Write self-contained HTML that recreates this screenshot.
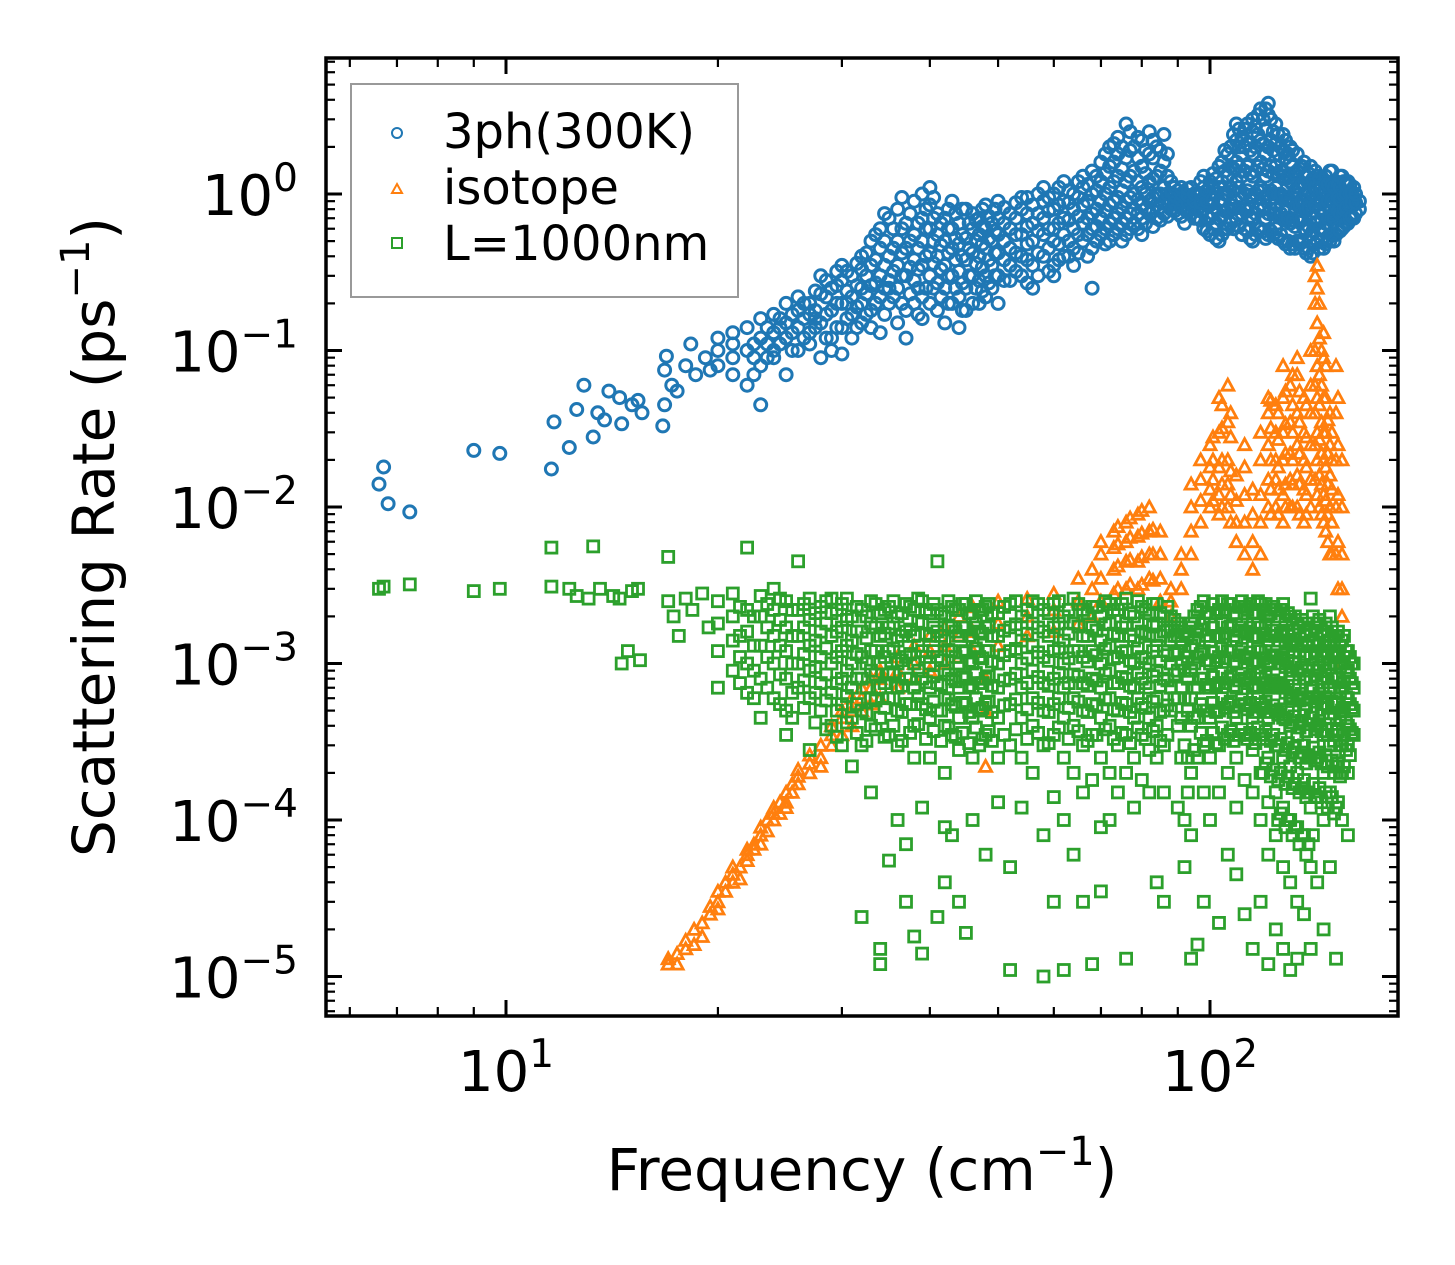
<!DOCTYPE html>
<html><head><meta charset="utf-8"><style>
html,body{margin:0;padding:0;background:#fff;}
svg{display:block;font-family:"DejaVu Sans","Liberation Sans",sans-serif;}
</style></head><body>
<svg id="chart" width="1455" height="1265" viewBox="0 0 1455 1265" xmlns="http://www.w3.org/2000/svg">
<rect width="1455" height="1265" fill="#fff"/>
<g id="marks"></g>
<g id="axes"></g>
<text x="862" y="1190" font-size="58" text-anchor="middle">Frequency (cm<tspan font-size="40" dy="-25">−1</tspan><tspan dy="25">)</tspan></text>
<text transform="translate(114,537) rotate(-90)" font-size="58" text-anchor="middle">Scattering Rate (ps<tspan font-size="40" dy="-25">−1</tspan><tspan dy="25">)</tspan></text>
<g>
<rect x="351" y="84" width="387" height="213" fill="#fff" fill-opacity="0.8" stroke="#999" stroke-width="2"/>
<circle cx="397" cy="133" r="5" fill="none" stroke="#1f77b4" stroke-width="2"/>
<text x="443" y="148" font-size="48">3ph(300K)</text>
<path d="M397,184 L402,193 L392,193 Z" fill="none" stroke="#ff7f0e" stroke-width="2"/>
<text x="443" y="204" font-size="48">isotope</text>
<rect x="392" y="238" width="10" height="10" fill="none" stroke="#2ca02c" stroke-width="2"/>
<text x="443" y="260" font-size="48">L=1000nm</text>
</g>
</svg>
<script>
// ---- data ----
const xTickValues = [10, 100];
const xTickExps = ["1", "2"];
const yTickValues = [1, 0.1, 0.01, 0.001, 0.0001, 0.00001];
const yTickExps = ["0", "−1", "−2", "−3", "−4", "−5"];

const blueSingles = [[6.6,0.014],[6.7,0.018],[6.8,0.0105],[7.3,0.0093],[9,0.023],[9.8,0.022],[11.6,0.0175],[11.7,0.035],[12.3,0.024],[12.6,0.042],[12.9,0.06],[13.3,0.028],[13.5,0.04],[13.8,0.036],[14,0.055],[14.5,0.05],[14.6,0.034],[15.1,0.045],[15.4,0.048],[15.6,0.04],[16.7,0.033],[16.8,0.045],[16.8,0.075],[16.9,0.092],[17.2,0.06],[17.5,0.055],[18,0.08],[18.3,0.11],[18.6,0.07],[19.2,0.09],[19.5,0.075]];
const blueGroups = [
[20,[0.08,0.1,0.12]],[21,[0.09,0.13,0.07,0.11]],[22,[0.06,0.1,0.14]],[23,[0.08,0.12,0.16,0.045]],
[24,[0.1,0.13,0.09,0.17]],[25,[0.12,0.15,0.2,0.07]],[26,[0.1,0.14,0.18,0.22]],[27,[0.13,0.17,0.2,0.11]],
[28,[0.09,0.15,0.23,0.3]],[29,[0.12,0.18,0.25,0.1]],[30,[0.14,0.2,0.28,0.35,0.095]],[31,[0.17,0.22,0.3,0.12]],
[32,[0.2,0.25,0.33,0.15,0.4]],[33,[0.18,0.26,0.35,0.5,0.14]],[34,[0.22,0.3,0.45,0.6,0.13]],[35,[0.2,0.28,0.4,0.7,0.25]],
[36,[0.15,0.25,0.35,0.5,0.8]],[37,[0.18,0.3,0.45,0.65,0.12]],[38,[0.2,0.28,0.38,0.55,0.9]],[39,[0.22,0.35,0.5,0.7,1.0,0.16]],
[40,[0.2,0.3,0.42,0.6,0.85,1.1]],[41,[0.18,0.27,0.4,0.55,0.75]],[42,[0.25,0.35,0.5,0.7,0.15]],[43,[0.2,0.3,0.45,0.6,0.9]],
[44,[0.22,0.32,0.48,0.65,0.14]],[45,[0.25,0.38,0.52,0.8,0.18]],[46,[0.2,0.3,0.42,0.6,0.75]],[47,[0.28,0.4,0.55,0.7,0.2]],
[48,[0.3,0.45,0.6,0.85,0.22]],[49,[0.25,0.35,0.5,0.65]],[50,[0.3,0.42,0.55,0.7,0.9,0.2]],[52,[0.35,0.45,0.6,0.75,0.28]],
[54,[0.3,0.4,0.55,0.8,0.95]],[56,[0.35,0.5,0.65,0.85,0.25]],[58,[0.4,0.55,0.7,0.9,1.1]],[60,[0.35,0.5,0.6,0.8,1.0,0.3]],
[62,[0.4,0.55,0.7,0.9,1.2]],[64,[0.45,0.6,0.8,1.0,0.35]],[66,[0.5,0.65,0.85,1.1,1.3]],[68,[0.45,0.6,0.75,1.0,1.4,0.25]],
[70,[0.55,0.7,0.9,1.2,1.6]],[72,[0.5,0.65,0.85,1.1,1.5,2.0]],[74,[0.6,0.75,0.95,1.3,1.8,2.3]],[76,[0.55,0.7,0.9,1.2,1.7,2.8]],
[78,[0.65,0.8,1.0,1.4,2.0]],[80,[0.7,0.85,1.1,1.5,2.2,0.55]],[82,[0.75,0.9,1.2,1.8,2.5]],[84,[0.7,0.85,1.0,1.3,2.0]],
[86,[0.75,0.9,1.1,1.6,2.4]],[88,[0.8,0.9,1.0,1.2]],[90,[0.75,0.85,0.95,1.05]],[92,[0.8,0.9,1.0,0.65]],
[94,[0.75,0.85,0.95,1.1]],[96,[0.8,0.9,1.0,0.7]],[98,[0.6,0.8,0.95,1.1,1.3]],[100,[0.55,0.7,0.85,1.0,1.2]],
[103,[0.5,0.7,0.9,1.1,1.5]],[106,[0.6,0.8,1.0,1.3,1.8]],[109,[0.7,0.9,1.2,1.6,2.2,2.8]],[112,[0.6,0.8,1.0,1.4,2.0,2.6]],
[115,[0.5,0.7,0.95,1.3,1.8,2.5,3.0]],[118,[0.6,0.85,1.1,1.6,2.2,3.5]],[121,[0.55,0.75,1.0,1.4,2.0,3.2,3.8]],[124,[0.6,0.8,1.1,1.5,2.1,2.8]],
[127,[0.5,0.7,0.95,1.3,1.9,2.4]],[130,[0.45,0.65,0.9,1.2,1.6,2.0]],[133,[0.5,0.7,0.85,1.1,1.4,1.8]],[136,[0.45,0.6,0.8,1.0,1.3,1.6]],
[139,[0.4,0.55,0.75,0.95,1.2,1.5]],[142,[0.5,0.65,0.85,1.05,1.3]],[145,[0.45,0.6,0.8,1.0,1.2]],[148,[0.5,0.7,0.9,1.1,1.4]],
[151,[0.55,0.75,0.95,1.2]],[154,[0.6,0.8,1.0,1.3]],[157,[0.65,0.85,1.0,1.2]],[160,[0.7,0.85,0.95,1.1]],[163,[0.8,0.9]]
];
const blueGroupsB = [
[22.5,[0.07,0.09,0.11]],[23.5,[0.09,0.11,0.14]],[24.5,[0.11,0.14,0.16]],[25.5,[0.1,0.13,0.17]],[26.5,[0.12,0.16,0.2]],
[27.5,[0.14,0.18,0.24,0.16]],[28.5,[0.12,0.17,0.22,0.28]],[29.5,[0.14,0.2,0.26,0.32]],
[30.5,[0.16,0.24,0.32,0.2]],[31.5,[0.14,0.19,0.26,0.36]],[32.5,[0.17,0.23,0.3,0.42]],[33.5,[0.2,0.27,0.38,0.55]],
[34.5,[0.17,0.25,0.35,0.5,0.75]],[35.5,[0.22,0.32,0.45,0.6]],[36.5,[0.2,0.3,0.42,0.6,0.95]],[37.5,[0.23,0.34,0.5,0.75]],
[38.5,[0.17,0.25,0.33,0.45,0.65]],[39.5,[0.25,0.4,0.6,0.8]],[40.5,[0.25,0.36,0.5,0.7,0.95]],[41.5,[0.22,0.33,0.47,0.65]],
[42.5,[0.2,0.3,0.42,0.6,0.8]],[43.5,[0.25,0.38,0.52,0.75]],[44.5,[0.18,0.27,0.4,0.55,0.8]],[45.5,[0.3,0.45,0.65]],
[46.5,[0.25,0.36,0.5,0.68]],[47.5,[0.24,0.34,0.48,0.62,0.8]],[48.5,[0.27,0.38,0.52,0.72]],[49.5,[0.3,0.42,0.58,0.8]],
[51,[0.28,0.38,0.5,0.65,0.82]],[53,[0.32,0.42,0.55,0.7,0.88]],[55,[0.27,0.38,0.48,0.62,0.75,0.95]],[57,[0.3,0.42,0.58,0.75,1.0]],
[59,[0.32,0.45,0.6,0.78,0.95]],[61,[0.38,0.48,0.65,0.85,1.1]],[63,[0.4,0.5,0.68,0.88,1.05]],[65,[0.42,0.55,0.72,0.95,1.2]],
[67,[0.4,0.55,0.7,0.9,1.15]],[69,[0.5,0.62,0.8,1.05,1.3]],[71,[0.48,0.6,0.78,1.0,1.35,1.8]],[73,[0.55,0.7,0.9,1.2,1.6,2.1]],
[75,[0.5,0.65,0.82,1.05,1.45,2.0]],[77,[0.6,0.75,0.95,1.3,1.9,2.5]],[79,[0.6,0.75,0.92,1.2,1.7,2.3]],[81,[0.65,0.8,1.0,1.35,1.9]],
[83,[0.62,0.78,0.95,1.25,1.7,2.2]],[85,[0.68,0.82,1.0,1.4,1.9]],[87,[0.72,0.85,1.0,1.3,1.8]],[89,[0.78,0.88,0.98,1.1]],
[91,[0.72,0.82,0.92,1.0,1.1]],[93,[0.78,0.88,0.98,1.08]],[95,[0.7,0.8,0.9,1.0]],[97,[0.68,0.78,0.88,1.0,1.2]],
[99,[0.58,0.72,0.9,1.05]],[101,[0.6,0.75,0.92,1.1,1.35]],[102,[0.52,0.65,0.8,1.0,1.25]],[104,[0.55,0.72,0.92,1.2,1.6]],
[105,[0.6,0.78,1.0,1.4,1.9]],[107,[0.65,0.85,1.1,1.5,2.0]],[108,[0.6,0.8,1.05,1.45,2.4]],[110,[0.62,0.82,1.1,1.5,2.0,2.6]],
[111,[0.55,0.75,0.95,1.3,1.8,2.3]],[113,[0.58,0.78,1.05,1.5,2.1,2.8]],[114,[0.52,0.72,0.98,1.35,1.9]],[116,[0.55,0.75,1.0,1.4,2.0,2.7]],
[117,[0.6,0.8,1.05,1.5,2.4,3.2]],[119,[0.58,0.8,1.05,1.45,2.1,3.0]],[120,[0.52,0.7,0.95,1.3,1.8,2.6,3.5]],[122,[0.58,0.8,1.05,1.5,2.2,3.0]],
[123,[0.55,0.75,1.0,1.35,1.9,2.5]],[125,[0.52,0.72,0.98,1.35,1.8,2.4]],[126,[0.55,0.75,1.0,1.4,2.0]],[128,[0.48,0.68,0.92,1.25,1.7,2.2]],
[129,[0.5,0.7,0.95,1.3,1.8]],[131,[0.48,0.68,0.88,1.15,1.5,1.9]],[132,[0.45,0.62,0.82,1.05,1.35]],[134,[0.48,0.66,0.85,1.1,1.45]],
[135,[0.5,0.7,0.9,1.15,1.5]],[137,[0.42,0.58,0.78,1.0,1.3]],[138,[0.45,0.62,0.82,1.05,1.35]],[140,[0.42,0.58,0.78,1.0,1.25]],
[141,[0.48,0.65,0.85,1.1,1.4]],[143,[0.45,0.6,0.8,1.0,1.25]],[144,[0.5,0.68,0.88,1.1]],[146,[0.48,0.65,0.85,1.05,1.3]],
[147,[0.52,0.7,0.9,1.15]],[149,[0.55,0.72,0.92,1.15,1.4]],[150,[0.5,0.7,0.88,1.1]],[152,[0.6,0.78,0.95,1.15]],
[153,[0.58,0.75,0.92,1.1,1.3]],[155,[0.62,0.8,0.98,1.2]],[156,[0.65,0.82,1.0,1.15]],[158,[0.7,0.85,1.0,1.15]],
[159,[0.72,0.88,1.02]],[161,[0.75,0.88,1.0]]
];
const orangeGroups = [
[17,[1.2e-5,1.3e-5]],[17.5,[1.4e-5,1.2e-5]],[18,[1.5e-5,1.7e-5]],[18.5,[1.6e-5,2e-5]],[19,[2.2e-5,1.8e-5]],
[19.5,[2.5e-5,2.8e-5]],[20,[3e-5,2.7e-5,3.5e-5]],[20.5,[3.5e-5,4e-5]],[21,[4e-5,4.5e-5,5e-5]],[21.5,[5e-5,4.2e-5]],
[22,[5.5e-5,6e-5,6.5e-5]],[22.5,[6.5e-5,7e-5]],[23,[7e-5,8e-5,9e-5]],[23.5,[8.5e-5,1e-4]],[24,[1e-4,1.1e-4,1.2e-4]],
[24.5,[1.1e-4,1.3e-4]],[25,[1.3e-4,1.5e-4,1.2e-4]],[25.5,[1.5e-4,1.7e-4]],[26,[1.7e-4,1.9e-4,2.1e-4]],[27,[2e-4,2.3e-4,2.6e-4]],
[28,[2.5e-4,3e-4,2.2e-4]],[29,[3e-4,3.5e-4,4e-4]],[30,[3.5e-4,4.5e-4,5e-4]],[31,[4e-4,5e-4,6e-4]],[32,[5e-4,6e-4,7e-4]],
[33,[5.5e-4,7e-4,8e-4]],[34,[6e-4,8e-4,9e-4]],[36,[7e-4,9e-4,1.1e-3]],[38,[8e-4,1e-3,1.3e-3]],[40,[9e-4,1.2e-3,1.5e-3]],
[42,[1e-3,1.3e-3,1.7e-3]],[44,[1.1e-3,1.5e-3,2e-3]],[46,[1.2e-3,1.6e-3,2.3e-3]],[48,[5e-4,8e-4,2.2e-4]],[50,[1.3e-3,1.8e-3,2.5e-3]],
[55,[1.5e-3,2e-3,2.6e-3]],[60,[1.6e-3,2.2e-3,2.8e-3]],[65,[1.8e-3,2.5e-3,3.5e-3]],[68,[2e-3,3e-3,4e-3]],
[70,[2.5e-3,3.5e-3,5e-3,6e-3]],[73,[2.8e-3,4e-3,5.5e-3,7e-3]],[76,[3e-3,4.5e-3,6e-3,8e-3]],[79,[3e-3,4.5e-3,6.5e-3,9e-3]],
[82,[3.5e-3,5e-3,7e-3,1e-2]],[85,[2.5e-3,3.5e-3,5e-3,7e-3]],[88,[2e-3,2.5e-3,3e-3]],[91,[3e-3,4e-3,5e-3]],
[94,[5e-3,7e-3,1e-2,1.4e-2]],[97,[8e-3,1.1e-2,1.5e-2,2e-2]],[100,[1e-2,1.3e-2,1.8e-2,2.5e-2]],[103,[9e-3,1.2e-2,1.8e-2,3e-2,5e-2]],
[106,[1e-2,1.4e-2,2e-2,3.5e-2,6e-2]],[109,[6e-3,8e-3,1.1e-2,1.6e-2]],[112,[5e-3,8e-3,1.2e-2,1.8e-2,2.5e-2]],[115,[4e-3,6e-3,9e-3,1.3e-2]],
[118,[5e-3,8e-3,1.2e-2,2e-2,3e-2]],[121,[1e-2,1.5e-2,2.5e-2,4e-2,5e-2]],[124,[1e-2,1.5e-2,2e-2,3e-2,4.5e-2]],[127,[8e-3,1.2e-2,2e-2,3e-2,5e-2,8e-2]],
[130,[1e-2,1.5e-2,2.2e-2,3.5e-2,6e-2]],[133,[1e-2,1.6e-2,2.5e-2,4e-2,7e-2,9e-2]],[136,[8e-3,1.3e-2,2e-2,3e-2,5e-2]],[139,[1e-2,1.5e-2,2.5e-2,4e-2,6e-2,1e-1]],
[142,[1.2e-2,2e-2,3e-2,5e-2,8e-2,1.5e-1,2.5e-1,3.5e-1]],[145,[8e-3,1.2e-2,2e-2,3e-2,5e-2,9e-2,1.3e-1]],[148,[5e-3,1e-2,1.6e-2,2.5e-2,4e-2]],
[151,[5e-3,1e-2,2e-2,4e-2,8e-2]],[154,[1e-3,2e-3,3e-3,5e-3,1e-2,2e-2]]
];
const orangeGroupsB = [
[141,[1.5e-2,2.5e-2,4e-2,6e-2,1e-1,2e-1,3e-1]],[143,[1e-2,1.6e-2,2.7e-2,4.5e-2,7e-2,1.2e-1,2e-1]],[144,[9e-3,1.4e-2,2.2e-2,3.5e-2,6e-2,1e-1]],
[146,[7e-3,1.1e-2,1.8e-2,3e-2,5e-2,8e-2]],[147,[6e-3,9e-3,1.4e-2,2.2e-2,3.6e-2]],[149,[5e-3,8e-3,1.3e-2,2e-2,3e-2]],[152,[3e-3,6e-3,1.2e-2,2.5e-2,5e-2]],
[101,[1.1e-2,1.5e-2,2e-2,2.8e-2]],[104,[1e-2,1.4e-2,2e-2,3.2e-2,4.5e-2]],[107,[8e-3,1.2e-2,1.7e-2,2.8e-2,4e-2]],
[122,[9e-3,1.3e-2,2e-2,3.2e-2,4.8e-2]],[125,[9e-3,1.3e-2,1.8e-2,2.7e-2,4e-2]],[128,[1e-2,1.4e-2,2.2e-2,3.4e-2,5.5e-2]],
[131,[1e-2,1.4e-2,2e-2,3e-2,4.5e-2,7e-2]],[134,[9e-3,1.4e-2,2.2e-2,3.5e-2,5.5e-2]],[137,[9e-3,1.2e-2,1.8e-2,2.8e-2,4.5e-2]],
[74,[3e-3,4.2e-3,5.8e-3,7.5e-3]],[77,[3.2e-3,4.6e-3,6.4e-3,8.5e-3]],[80,[3.2e-3,4.8e-3,6.8e-3,9.5e-3]],[83,[3.4e-3,5e-3,7.2e-3]]
];
const greenSingles = [[6.6,3e-3],[6.7,3.1e-3],[7.3,3.2e-3],[9,2.9e-3],[9.8,3e-3],[11.6,3.1e-3],[11.6,5.5e-3],[12.3,3e-3],[12.6,2.7e-3],[13.1,2.6e-3],[13.3,5.6e-3],[13.6,3e-3],[14.2,2.7e-3],[14.5,2.6e-3],[15.1,2.9e-3],[15.4,3e-3],[14.6,1e-3],[14.9,1.2e-3],[15.5,1.05e-3],[17,2.5e-3],[17,4.8e-3],[17.3,2e-3],[17.6,1.5e-3],[18,2.6e-3],[18.4,2.2e-3],[19,2.8e-3],[19.4,1.7e-3]];
const greenGroups = [
[20,[2.5e-3,1.8e-3,1.2e-3,7e-4]],[21,[2.8e-3,2e-3,1.4e-3,9e-4]],[22,[2.2e-3,1.6e-3,1e-3,6.5e-4,5.5e-3]],[23,[2.7e-3,2e-3,1.3e-3,8e-4,4.5e-4]],
[24,[3e-3,2.2e-3,1.5e-3,1e-3,6e-4]],[25,[2.5e-3,1.7e-3,1.2e-3,8e-4,5e-4,3.5e-4]],[26,[2.2e-3,1.5e-3,1e-3,7e-4,4.5e-3]],[27,[2.6e-3,1.9e-3,1.3e-3,9e-4,6e-4,2.8e-4]],
[28,[2.3e-3,1.6e-3,1.1e-3,7.5e-4,5e-4]],[29,[2.1e-3,1.5e-3,1e-3,6.5e-4,4e-4,2.6e-3]],[30,[2.4e-3,1.7e-3,1.2e-3,8e-4,5.5e-4,3e-4]],[31,[2e-3,1.4e-3,1e-3,7e-4,4.5e-4,2.2e-4]],
[32,[2.2e-3,1.6e-3,1.1e-3,8e-4,5e-4,3e-4,2.4e-5]],[33,[2.5e-3,1.8e-3,1.2e-3,9e-4,6e-4,4e-4,1.5e-4]],[34,[2.1e-3,1.5e-3,1e-3,7e-4,4.5e-4,1.2e-5,1.5e-5]],[35,[2.3e-3,1.7e-3,1.2e-3,8.5e-4,6e-4,3.5e-4,5.5e-5]],
[36,[2e-3,1.4e-3,1e-3,7e-4,5e-4,3e-4,1e-4]],[37,[2.4e-3,1.6e-3,1.1e-3,8e-4,5.5e-4,3e-5,7e-5]],[38,[2.2e-3,1.5e-3,1e-3,7e-4,4e-4,2.5e-4,1.8e-5]],[39,[2.5e-3,1.8e-3,1.2e-3,8e-4,5.5e-4,1.2e-4,1.4e-5]],
[40,[2.1e-3,1.5e-3,1e-3,7e-4,4.5e-4,2.5e-4]],[41,[4.5e-3,2.2e-3,1.6e-3,1.1e-3,7.5e-4,5e-4,2.4e-5]],[42,[2e-3,1.4e-3,9e-4,6e-4,4e-4,2e-4,4e-5,9e-5]],[43,[2.3e-3,1.7e-3,1.2e-3,8e-4,5.5e-4,3.5e-4,8e-5]],
[44,[2.2e-3,1.5e-3,1e-3,7e-4,4.5e-4,2.8e-4,3e-5]],[45,[2.4e-3,1.7e-3,1.2e-3,8e-4,5.5e-4,1.9e-5]],[46,[2e-3,1.4e-3,1e-3,7e-4,4.5e-4,2.5e-4,1e-4]],[47,[2.2e-3,1.6e-3,1.1e-3,7.5e-4,5e-4,3e-4]],
[48,[2.3e-3,1.7e-3,1.2e-3,8e-4,5.5e-4,3.5e-4,6e-5]],[50,[2.1e-3,1.5e-3,1e-3,7e-4,4.5e-4,2.5e-4,1.3e-4]],[52,[2.4e-3,1.7e-3,1.2e-3,8e-4,5.5e-4,3e-4,1.1e-5,5e-5]],[54,[2e-3,1.4e-3,1e-3,7e-4,4.5e-4,2.5e-4,1.2e-4]],
[56,[2.5e-3,1.8e-3,1.3e-3,9e-4,6e-4,4e-4,2e-4]],[58,[2.2e-3,1.6e-3,1.1e-3,7.5e-4,5e-4,3e-4,1e-5,8e-5]],[60,[2.4e-3,1.7e-3,1.2e-3,8e-4,5.5e-4,3.5e-4,1.4e-4,3e-5]],[62,[2e-3,1.4e-3,1e-3,7e-4,4.5e-4,2.5e-4,1e-4,1.1e-5]],
[64,[2.6e-3,1.8e-3,1.2e-3,8.5e-4,6e-4,4e-4,2e-4,6e-5]],[66,[2.2e-3,1.5e-3,1.1e-3,7.5e-4,5e-4,3e-4,1.5e-4,3e-5]],[68,[2.3e-3,1.7e-3,1.2e-3,8e-4,5.5e-4,3.5e-4,1.8e-4,1.2e-5]],[70,[2e-3,1.4e-3,1e-3,7e-4,4.5e-4,2.5e-4,9e-5,3.5e-5]],
[72,[2.4e-3,1.8e-3,1.3e-3,9e-4,6e-4,4e-4,2e-4,1e-4]],[74,[2.2e-3,1.5e-3,1.1e-3,7.5e-4,5e-4,3e-4,1.5e-4]],[76,[2.6e-3,1.8e-3,1.2e-3,8e-4,5.5e-4,3.5e-4,2e-4,1.3e-5]],[78,[2e-3,1.4e-3,1e-3,7e-4,4.5e-4,2.5e-4,1.2e-4]],
[80,[2.3e-3,1.6e-3,1.1e-3,8e-4,5.5e-4,3.5e-4,1.8e-4]],[82,[2.1e-3,1.5e-3,1e-3,7e-4,4.5e-4,2.8e-4,1.5e-4]],[84,[2.4e-3,1.8e-3,1.3e-3,9e-4,6e-4,4e-4,2.5e-4,4e-5]],[86,[2e-3,1.6e-3,1.2e-3,8e-4,5e-4,3e-4,1.5e-4,3e-5]],
[88,[2e-3,1.7e-3,1.4e-3,1e-3,7e-4,5e-4]],[90,[1.8e-3,1.5e-3,1.2e-3,9e-4,6e-4,4e-4,1.2e-4]],[92,[1.6e-3,1.2e-3,9e-4,6e-4,3e-4,1e-4,5e-5]],[94,[1.8e-3,1.3e-3,9e-4,6e-4,4e-4,2e-4,8e-5,1.3e-5]],
[96,[2.2e-3,1.6e-3,1.1e-3,7e-4,4.5e-4,2.5e-4,1.6e-5]],[98,[2.5e-3,1.8e-3,1.2e-3,8e-4,5e-4,3e-4,1.5e-4,3e-5]],[100,[2e-3,1.4e-3,1e-3,7e-4,4.5e-4,2.5e-4,1e-4]],[103,[2.2e-3,1.5e-3,1.1e-3,7.5e-4,5e-4,3e-4,1.5e-4,2.2e-5]],
[106,[2.4e-3,1.7e-3,1.2e-3,8e-4,5.5e-4,3.5e-4,2e-4,6e-5]],[109,[2e-3,1.4e-3,1e-3,7e-4,4.5e-4,2.5e-4,1.2e-4,4.5e-5]],[112,[2.3e-3,1.6e-3,1.1e-3,8e-4,5.5e-4,3.5e-4,1.8e-4,2.5e-5]],[115,[2.1e-3,1.5e-3,1e-3,7e-4,4.5e-4,2.8e-4,1.5e-4,1.5e-5]],
[118,[2.4e-3,1.7e-3,1.2e-3,8e-4,5.5e-4,3.5e-4,2e-4,1e-4,3e-5]],[121,[2e-3,1.4e-3,1e-3,7e-4,4.5e-4,2.5e-4,1.3e-4,6e-5,1.2e-5]],[124,[2.2e-3,1.5e-3,1.1e-3,7.5e-4,5e-4,3e-4,1.5e-4,8e-5,2e-5]],[127,[2.4e-3,1.6e-3,1.1e-3,7e-4,4.5e-4,2.5e-4,1.2e-4,5e-5,1.5e-5]],
[130,[2e-3,1.4e-3,9e-4,6e-4,4e-4,2.2e-4,1e-4,4e-5,1.1e-5]],[133,[1.8e-3,1.3e-3,9e-4,6e-4,3.5e-4,2e-4,9e-5,3e-5,1.3e-5]],[136,[1.5e-3,1.1e-3,8e-4,5e-4,3e-4,1.8e-4,8e-5,2.5e-5]],[139,[2.6e-3,1.6e-3,1.1e-3,7e-4,4.5e-4,2.5e-4,1.2e-4,5e-5,1.5e-5]],
[142,[1.8e-3,1.3e-3,9e-4,6e-4,4e-4,2.5e-4,1.4e-4,4e-5]],[145,[1.6e-3,1.2e-3,8e-4,5.5e-4,3.5e-4,2e-4,1e-4,2e-5]],[148,[2e-3,1.4e-3,1e-3,7e-4,4.5e-4,3e-4,1.5e-4,5e-5]],[151,[1.5e-3,1.1e-3,8e-4,5.5e-4,3.5e-4,2.2e-4,1.2e-4,1.3e-5]],
[154,[1.4e-3,1e-3,7e-4,5e-4,3e-4,2e-4,1e-4]],[157,[1.2e-3,9e-4,6e-4,4e-4,3e-4,2e-4,8e-5]],[160,[1e-3,7e-4,5e-4,3.5e-4]]
];
const greenGroupsB = [
[21.5,[2.3e-3,1.5e-3,1.1e-3,7.5e-4]],[22.5,[2e-3,1.3e-3,9e-4,6e-4]],[23.5,[2.4e-3,1.7e-3,1.1e-3,7e-4]],[24.5,[2.6e-3,1.9e-3,1.3e-3,8.5e-4,5.5e-4]],
[25.5,[2.2e-3,1.5e-3,1e-3,6.5e-4,4.5e-4]],[26.5,[2.4e-3,1.7e-3,1.15e-3,7.8e-4,5.2e-4]],[27.5,[2.1e-3,1.4e-3,9.5e-4,6.5e-4,4.2e-4]],[28.5,[2.5e-3,1.8e-3,1.25e-3,8.5e-4,5.8e-4,3.8e-4]],
[29.5,[2.2e-3,1.6e-3,1.1e-3,7.5e-4,5e-4,3.4e-4]],[30.5,[2.6e-3,1.9e-3,1.3e-3,9e-4,6.2e-4,4.2e-4]],[31.5,[2.3e-3,1.6e-3,1.15e-3,8e-4,5.5e-4,3.6e-4]],[32.5,[2e-3,1.45e-3,1e-3,7e-4,4.8e-4,3.2e-4]],
[33.5,[2.4e-3,1.7e-3,1.2e-3,8.5e-4,5.8e-4,3.8e-4]],[34.5,[2.2e-3,1.55e-3,1.1e-3,7.5e-4,5.2e-4,3.4e-4]],[35.5,[2.5e-3,1.8e-3,1.25e-3,8.8e-4,6e-4,4e-4]],[36.5,[2.1e-3,1.5e-3,1.05e-3,7.2e-4,4.9e-4,3.2e-4]],
[37.5,[2.3e-3,1.65e-3,1.15e-3,8e-4,5.5e-4,3.6e-4]],[38.5,[2.6e-3,1.85e-3,1.3e-3,9e-4,6.2e-4,4.1e-4]],[39.5,[2.2e-3,1.55e-3,1.1e-3,7.6e-4,5.1e-4,3.3e-4]],[40.5,[2.4e-3,1.7e-3,1.2e-3,8.3e-4,5.7e-4,3.7e-4]],
[41.5,[2.1e-3,1.5e-3,1.05e-3,7.3e-4,5e-4,3.2e-4]],[42.5,[2.5e-3,1.75e-3,1.22e-3,8.5e-4,5.9e-4,3.9e-4]],[43.5,[2.2e-3,1.6e-3,1.1e-3,7.7e-4,5.3e-4,3.4e-4]],[44.5,[2.4e-3,1.7e-3,1.18e-3,8.2e-4,5.6e-4,3.6e-4]],
[45.5,[2.1e-3,1.5e-3,1.04e-3,7.2e-4,4.9e-4,3.1e-4]],[46.5,[2.5e-3,1.8e-3,1.25e-3,8.7e-4,6e-4,3.9e-4]],[47.5,[2.2e-3,1.55e-3,1.08e-3,7.5e-4,5.2e-4,3.3e-4]],[48.5,[2.4e-3,1.72e-3,1.2e-3,8.3e-4,5.7e-4,3.7e-4]],
[49,[2.1e-3,1.5e-3,1.03e-3,7.2e-4,4.9e-4,3.2e-4]],[51,[2.3e-3,1.62e-3,1.13e-3,7.8e-4,5.4e-4,3.5e-4]],[53,[2.5e-3,1.78e-3,1.24e-3,8.6e-4,5.9e-4,3.8e-4]],[55,[2.2e-3,1.55e-3,1.08e-3,7.5e-4,5.1e-4,3.3e-4]],
[57,[2.4e-3,1.7e-3,1.18e-3,8.2e-4,5.6e-4,3.6e-4]],[59,[2.1e-3,1.5e-3,1.04e-3,7.2e-4,4.9e-4,3.1e-4]],[61,[2.5e-3,1.8e-3,1.25e-3,8.7e-4,6e-4,3.9e-4]],[63,[2.2e-3,1.55e-3,1.08e-3,7.5e-4,5.2e-4,3.3e-4]],
[65,[2.4e-3,1.72e-3,1.2e-3,8.3e-4,5.7e-4,3.7e-4]],[67,[2.1e-3,1.5e-3,1.03e-3,7.2e-4,4.9e-4,3.2e-4]],[69,[2.3e-3,1.62e-3,1.13e-3,7.8e-4,5.4e-4,3.5e-4]],[71,[2.5e-3,1.78e-3,1.24e-3,8.6e-4,5.9e-4,3.8e-4]],
[73,[2.2e-3,1.55e-3,1.08e-3,7.5e-4,5.1e-4,3.3e-4]],[75,[2.4e-3,1.7e-3,1.18e-3,8.2e-4,5.6e-4,3.6e-4]],[77,[2.1e-3,1.5e-3,1.04e-3,7.2e-4,4.9e-4,3.1e-4]],[79,[2.5e-3,1.8e-3,1.25e-3,8.7e-4,6e-4,3.9e-4]],
[81,[2.2e-3,1.55e-3,1.08e-3,7.5e-4,5.2e-4,3.3e-4]],[83,[2.4e-3,1.72e-3,1.2e-3,8.3e-4,5.7e-4,3.7e-4]],[85,[2.1e-3,1.5e-3,1.03e-3,7.2e-4,4.9e-4,3.2e-4]],[87,[2.3e-3,1.62e-3,1.13e-3,7.8e-4,5.4e-4,3.5e-4]],
[89,[1.9e-3,1.5e-3,1.15e-3,8.5e-4,6e-4]],[91,[1.7e-3,1.35e-3,1e-3,7e-4,4.5e-4,2.5e-4]],[93,[1.5e-3,1.1e-3,8e-4,5e-4,2.5e-4,1.5e-4]],[95,[2e-3,1.45e-3,1e-3,7e-4,4.5e-4,2.8e-4]],
[97,[2.3e-3,1.65e-3,1.15e-3,8e-4,5.5e-4,3.6e-4]],[99,[2.1e-3,1.5e-3,1.05e-3,7.3e-4,5e-4,3.2e-4]],[101,[2.4e-3,1.7e-3,1.18e-3,8.2e-4,5.6e-4,3.6e-4]],[102,[2.1e-3,1.5e-3,1.04e-3,7.2e-4,4.9e-4,3.1e-4]],
[104,[2.5e-3,1.8e-3,1.25e-3,8.7e-4,6e-4,3.9e-4]],[105,[2.2e-3,1.55e-3,1.08e-3,7.5e-4,5.2e-4,3.3e-4]],[107,[2.4e-3,1.72e-3,1.2e-3,8.3e-4,5.7e-4,3.7e-4]],[108,[2.1e-3,1.5e-3,1.03e-3,7.2e-4,4.9e-4,3.2e-4]],
[110,[2.3e-3,1.62e-3,1.13e-3,7.8e-4,5.4e-4,3.5e-4]],[111,[2.5e-3,1.78e-3,1.24e-3,8.6e-4,5.9e-4,3.8e-4]],[113,[2.2e-3,1.55e-3,1.08e-3,7.5e-4,5.1e-4,3.3e-4]],[114,[2.4e-3,1.7e-3,1.18e-3,8.2e-4,5.6e-4,3.6e-4]],
[116,[2.1e-3,1.5e-3,1.04e-3,7.2e-4,4.9e-4,3.1e-4]],[117,[2.5e-3,1.8e-3,1.25e-3,8.7e-4,6e-4,3.9e-4]],[119,[2.2e-3,1.55e-3,1.08e-3,7.5e-4,5.2e-4,3.3e-4,2e-4]],[120,[2.4e-3,1.72e-3,1.2e-3,8.3e-4,5.7e-4,3.7e-4,2.3e-4]],
[122,[2.1e-3,1.5e-3,1.03e-3,7.2e-4,4.9e-4,3.2e-4,1.9e-4]],[123,[2.3e-3,1.62e-3,1.13e-3,7.8e-4,5.4e-4,3.5e-4,2.1e-4]],[125,[2e-3,1.4e-3,1e-3,7e-4,4.7e-4,3e-4,1.8e-4,1e-4]],[126,[2.2e-3,1.55e-3,1.08e-3,7.5e-4,5.1e-4,3.3e-4,2e-4,1.1e-4]],
[128,[1.9e-3,1.35e-3,9.5e-4,6.5e-4,4.4e-4,2.8e-4,1.7e-4,9e-5]],[129,[2.1e-3,1.5e-3,1.04e-3,7.2e-4,4.9e-4,3.1e-4,1.9e-4,1e-4]],[131,[1.8e-3,1.3e-3,9e-4,6.2e-4,4.2e-4,2.7e-4,1.6e-4,8e-5]],[132,[2e-3,1.42e-3,1e-3,6.8e-4,4.6e-4,2.9e-4,1.7e-4,9e-5]],
[134,[1.7e-3,1.2e-3,8.5e-4,5.8e-4,3.9e-4,2.5e-4,1.5e-4,7e-5]],[135,[1.9e-3,1.35e-3,9.4e-4,6.4e-4,4.3e-4,2.7e-4,1.6e-4,8e-5]],[137,[1.6e-3,1.15e-3,8e-4,5.5e-4,3.7e-4,2.3e-4,1.4e-4,6e-5]],[138,[1.8e-3,1.3e-3,9e-4,6.1e-4,4.1e-4,2.6e-4,1.5e-4,7e-5]],
[140,[2e-3,1.4e-3,9.8e-4,6.7e-4,4.5e-4,2.9e-4,1.7e-4,8e-5]],[141,[1.7e-3,1.2e-3,8.4e-4,5.7e-4,3.8e-4,2.4e-4,1.4e-4]],[143,[1.9e-3,1.35e-3,9.4e-4,6.4e-4,4.3e-4,2.7e-4,1.6e-4]],[144,[1.6e-3,1.15e-3,8e-4,5.5e-4,3.7e-4,2.3e-4,1.3e-4]],
[146,[1.8e-3,1.3e-3,9e-4,6.1e-4,4.1e-4,2.6e-4,1.5e-4]],[147,[1.5e-3,1.1e-3,7.6e-4,5.2e-4,3.5e-4,2.2e-4,1.2e-4]],[149,[1.7e-3,1.2e-3,8.4e-4,5.7e-4,3.8e-4,2.4e-4,1.4e-4]],[150,[1.4e-3,1e-3,7e-4,4.8e-4,3.2e-4,2e-4,1.1e-4]],
[152,[1.6e-3,1.15e-3,8e-4,5.5e-4,3.7e-4,2.3e-4,1.3e-4]],[153,[1.3e-3,9.5e-4,6.6e-4,4.5e-4,3e-4,1.9e-4]],[155,[1.5e-3,1.1e-3,7.6e-4,5.2e-4,3.5e-4,2.2e-4]],[156,[1.2e-3,8.8e-4,6.1e-4,4.2e-4,2.8e-4]],
[158,[1.1e-3,8e-4,5.5e-4,3.8e-4,2.6e-4]],[159,[1e-3,7.5e-4,5.2e-4,3.6e-4]]
];

// ---- axes ----
const PL = 326, PR = 1398, PT = 58, PB = 1016;
const X10 = 506, XDEC = 704;
const Y1 = 194, YDEC = 156.5;
function xs(f){ return X10 + (Math.log10(f) - 1) * XDEC; }
function ys(r){ return Y1 - Math.log10(r) * YDEC; }
const NS = "http://www.w3.org/2000/svg";
function mk(tag, attrs, parent){
  const e = document.createElementNS(NS, tag);
  for (const k in attrs) e.setAttribute(k, attrs[k]);
  parent.appendChild(e);
  return e;
}
const marks = document.getElementById('marks');
const axes = document.getElementById('axes');

function flatten(singles, groupLists){
  const out = singles.slice();
  groupLists.forEach(groups => groups.forEach(g => g[1].forEach(r => out.push([g[0], r]))));
  return out;
}
const bluePts = flatten(blueSingles, [blueGroups, blueGroupsB]);
const orangePts = flatten([], [orangeGroups, orangeGroupsB]);
const greenPts = flatten(greenSingles, [greenGroups, greenGroupsB]);

const gB = mk('g', {}, marks);


bluePts.forEach(p => {
  const c = mk('circle', {cx: xs(p[0]).toFixed(1), cy: ys(p[1]).toFixed(1), r: 6, fill: 'none', stroke: '#1f77b4', 'stroke-width': 3}, gB);
  
  
});
const gO = mk('g', {}, marks);


orangePts.forEach(p => {
  const x = xs(p[0]), y = ys(p[1]);
  const t = mk('path', {d: `M${x.toFixed(1)},${(y-6).toFixed(1)} L${(x+6).toFixed(1)},${(y+5).toFixed(1)} L${(x-6).toFixed(1)},${(y+5).toFixed(1)} Z`, fill: 'none', stroke: '#ff7f0e', 'stroke-width': 2.8}, gO);
  
  
});
const gG = mk('g', {}, marks);


greenPts.forEach(p => {
  const s = mk('rect', {x: (xs(p[0])-5.5).toFixed(1), y: (ys(p[1])-5.5).toFixed(1), width: 11, height: 11, fill: 'none', stroke: '#2ca02c', 'stroke-width': 2.8}, gG);
  
  
});

// frame
const frame = mk('rect', {x: PL, y: PT, width: PR-PL, height: PB-PT, fill: 'none', stroke: '#000', 'stroke-width': 3.5}, axes);



for (let d = 0; d <= 2; d++) {
  for (let m = 1; m <= 9; m++) {
    const f = m * Math.pow(10, d);
    const x = xs(f);
    if (x < PL + 1 || x > PR - 1) continue;
    const len = m === 1 ? 16 : 9;
    const w = m === 1 ? 3 : 2.2;
    const t1 = mk('line', {x1: x, x2: x, y1: PB, y2: PB - len, stroke: '#000', 'stroke-width': w}, axes);
    
    
    const t2 = mk('line', {x1: x, x2: x, y1: PT, y2: PT + len, stroke: '#000', 'stroke-width': w}, axes);
    
    
  }
}
xTickValues.forEach((v, i) => {
  const t = mk('text', {x: xs(v), y: 1091, 'font-size': 56, 'text-anchor': 'middle'}, axes);
  
  
  t.innerHTML = '10<tspan font-size="39" dy="-24">' + xTickExps[i] + '</tspan>';
});
for (let d = -6; d <= 0; d++) {
  for (let m = 1; m <= 9; m++) {
    const r = m * Math.pow(10, d);
    const y = ys(r);
    if (y < PT + 1 || y > PB - 1) continue;
    const len = m === 1 ? 16 : 9;
    const w = m === 1 ? 3 : 2.2;
    const t1 = mk('line', {x1: PL, x2: PL + len, y1: y, y2: y, stroke: '#000', 'stroke-width': w}, axes);
    
    
    const t2 = mk('line', {x1: PR, x2: PR - len, y1: y, y2: y, stroke: '#000', 'stroke-width': w}, axes);
    
    
  }
}
yTickValues.forEach((v, i) => {
  const t = mk('text', {x: 298, y: ys(v) + 21, 'font-size': 56, 'text-anchor': 'end'}, axes);
  
  
  t.innerHTML = '10<tspan font-size="39" dy="-24">' + yTickExps[i] + '</tspan>';
});
</script>
</body></html>
